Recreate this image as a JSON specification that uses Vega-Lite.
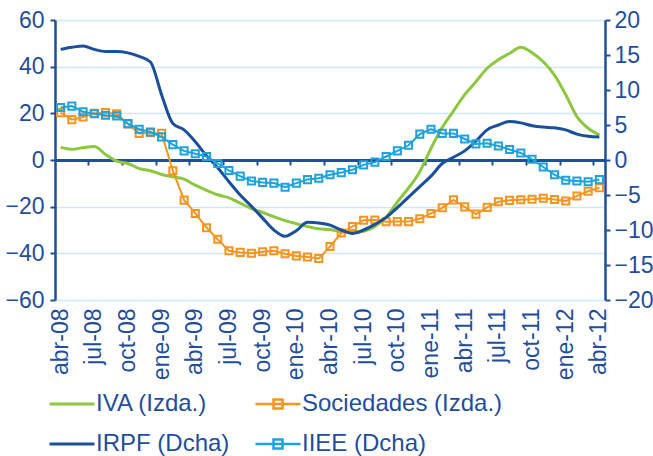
{
  "$schema": "https://vega.github.io/schema/vega-lite/v6.json",
  "width": 550,
  "height": 280,
  "autosize": {"type": "none"},
  "padding": {"left": 55, "top": 20, "right": 48, "bottom": 156},
  "background": "white",
  "config": {
    "view": {"stroke": null},
    "font": "Liberation Sans"
  },
  "data": {
    "values": [
      {"mes": "abr-08", "IVA": 5.4, "Sociedades": 20.3, "IRPF": 15.8, "IIEE": 7.5},
      {"mes": "may-08", "IVA": 4.6, "Sociedades": 17.3, "IRPF": 16.1, "IIEE": 7.7},
      {"mes": "jun-08", "IVA": 5.3, "Sociedades": 18.4, "IRPF": 16.3, "IIEE": 6.9},
      {"mes": "jul-08", "IVA": 5.8, "Sociedades": 20.0, "IRPF": 15.8, "IIEE": 6.6},
      {"mes": "ago-08", "IVA": 2.4, "Sociedades": 20.3, "IRPF": 15.5, "IIEE": 6.4},
      {"mes": "sep-08", "IVA": -0.5, "Sociedades": 19.8, "IRPF": 15.5, "IIEE": 6.3},
      {"mes": "oct-08", "IVA": -1.5, "Sociedades": 15.4, "IRPF": 15.3, "IIEE": 5.2},
      {"mes": "nov-08", "IVA": -3.7, "Sociedades": 11.4, "IRPF": 14.8, "IIEE": 4.4},
      {"mes": "dic-08", "IVA": -4.6, "Sociedades": 11.7, "IRPF": 14.0, "IIEE": 4.0},
      {"mes": "ene-09", "IVA": -6.2, "Sociedades": 11.4, "IRPF": 9.3, "IIEE": 3.3},
      {"mes": "feb-09", "IVA": -7.2, "Sociedades": -4.6, "IRPF": 5.2, "IIEE": 2.2},
      {"mes": "mar-09", "IVA": -8.2, "Sociedades": -17.2, "IRPF": 4.3, "IIEE": 1.3},
      {"mes": "abr-09", "IVA": -10.8, "Sociedades": -22.9, "IRPF": 2.6, "IIEE": 0.9},
      {"mes": "may-09", "IVA": -13.0, "Sociedades": -29.0, "IRPF": 0.6, "IIEE": 0.5},
      {"mes": "jun-09", "IVA": -14.9, "Sociedades": -34.0, "IRPF": -1.1, "IIEE": -0.5},
      {"mes": "jul-09", "IVA": -16.2, "Sociedades": -38.9, "IRPF": -3.1, "IIEE": -1.5},
      {"mes": "ago-09", "IVA": -18.5, "Sociedades": -39.6, "IRPF": -5.0, "IIEE": -2.3},
      {"mes": "sep-09", "IVA": -20.8, "Sociedades": -40.0, "IRPF": -6.6, "IIEE": -3.0},
      {"mes": "oct-09", "IVA": -22.5, "Sociedades": -39.3, "IRPF": -8.3, "IIEE": -3.2},
      {"mes": "nov-09", "IVA": -24.3, "Sociedades": -38.9, "IRPF": -10.0, "IIEE": -3.3},
      {"mes": "dic-09", "IVA": -26.0, "Sociedades": -40.2, "IRPF": -10.9, "IIEE": -3.9},
      {"mes": "ene-10", "IVA": -27.3, "Sociedades": -41.1, "IRPF": -10.1, "IIEE": -3.3},
      {"mes": "feb-10", "IVA": -28.5, "Sociedades": -41.6, "IRPF": -8.9, "IIEE": -2.8},
      {"mes": "mar-10", "IVA": -29.5, "Sociedades": -42.2, "IRPF": -9.0, "IIEE": -2.6},
      {"mes": "abr-10", "IVA": -29.8, "Sociedades": -37.1, "IRPF": -9.3, "IIEE": -2.1},
      {"mes": "may-10", "IVA": -30.8, "Sociedades": -31.3, "IRPF": -10.0, "IIEE": -1.8},
      {"mes": "jun-10", "IVA": -31.0, "Sociedades": -28.5, "IRPF": -10.5, "IIEE": -1.4},
      {"mes": "jul-10", "IVA": -30.5, "Sociedades": -25.8, "IRPF": -10.0, "IIEE": -0.7},
      {"mes": "ago-10", "IVA": -28.5, "Sociedades": -25.7, "IRPF": -9.2, "IIEE": -0.3},
      {"mes": "sep-10", "IVA": -24.5, "Sociedades": -26.5, "IRPF": -8.2, "IIEE": 0.5},
      {"mes": "oct-10", "IVA": -18.0, "Sociedades": -26.4, "IRPF": -6.8, "IIEE": 1.3},
      {"mes": "nov-10", "IVA": -12.0, "Sociedades": -26.4, "IRPF": -5.3, "IIEE": 2.1},
      {"mes": "dic-10", "IVA": -5.0, "Sociedades": -25.2, "IRPF": -3.8, "IIEE": 3.7},
      {"mes": "ene-11", "IVA": 5.0, "Sociedades": -22.9, "IRPF": -2.3, "IIEE": 4.4},
      {"mes": "feb-11", "IVA": 14.0, "Sociedades": -20.5, "IRPF": -0.5, "IIEE": 3.8},
      {"mes": "mar-11", "IVA": 21.0, "Sociedades": -17.1, "IRPF": 0.4, "IIEE": 3.8},
      {"mes": "abr-11", "IVA": 28.0, "Sociedades": -20.1, "IRPF": 1.3, "IIEE": 3.0},
      {"mes": "may-11", "IVA": 33.6, "Sociedades": -23.2, "IRPF": 2.7, "IIEE": 2.3},
      {"mes": "jun-11", "IVA": 39.3, "Sociedades": -20.3, "IRPF": 4.3, "IIEE": 2.4},
      {"mes": "jul-11", "IVA": 43.0, "Sociedades": -17.9, "IRPF": 5.0, "IIEE": 2.0},
      {"mes": "ago-11", "IVA": 45.7, "Sociedades": -17.3, "IRPF": 5.5, "IIEE": 1.5},
      {"mes": "sep-11", "IVA": 48.3, "Sociedades": -17.0, "IRPF": 5.3, "IIEE": 1.0},
      {"mes": "oct-11", "IVA": 46.0, "Sociedades": -16.8, "IRPF": 4.9, "IIEE": 0.1},
      {"mes": "nov-11", "IVA": 42.1, "Sociedades": -16.4, "IRPF": 4.7, "IIEE": -1.0},
      {"mes": "dic-11", "IVA": 36.4, "Sociedades": -16.9, "IRPF": 4.6, "IIEE": -2.1},
      {"mes": "ene-12", "IVA": 28.0, "Sociedades": -17.6, "IRPF": 4.3, "IIEE": -2.9},
      {"mes": "feb-12", "IVA": 18.6, "Sociedades": -15.4, "IRPF": 3.7, "IIEE": -3.0},
      {"mes": "mar-12", "IVA": 13.6, "Sociedades": -13.4, "IRPF": 3.4, "IIEE": -3.1},
      {"mes": "abr-12", "IVA": 10.7, "Sociedades": -11.9, "IRPF": 3.3, "IIEE": -2.8}
    ]
  },
  "layer": [
    {
      "encoding": {
        "x": {
          "field": "mes", "type": "ordinal", "sort": null, "bandPosition": 0.5,
          "scale": {"type": "band", "paddingInner": 0, "paddingOuter": 0},
          "axis": {
            "title": null, "orient": "bottom", "ticks": false, "domain": false, "grid": false,
            "values": ["abr-08","jul-08","oct-08","ene-09","abr-09","jul-09","oct-09","ene-10","abr-10","jul-10","oct-10","ene-11","abr-11","jul-11","oct-11","ene-12","abr-12"],
            "labelAngle": 270, "labelAlign": "right", "labelBaseline": "middle",
            "labelPadding": 8, "labelFontSize": 23, "labelColor": "#1F4E9D",
            "labelOverlap": false, "labelFont": "Liberation Sans"
          }
        }
      },
      "layer": [
        {
          "mark": {"type": "line", "strokeWidth": 3, "interpolate": "monotone"},
          "encoding": {
            "y": {"field": "IVA", "type": "quantitative", "scale": {"domain": [-60, 60], "nice": false, "zero": false},
              "axis": {"title": null, "orient": "left", "values": [-60,-40,-20,0,20,40,60], "grid": true, "gridColor": "#CDE8F6", "gridWidth": 1.5,
                "domainColor": "#1F4E9D", "domainWidth": 2.5, "tickColor": "#1F4E9D", "tickWidth": 2, "tickSize": 5,
                "labelFontSize": 23, "labelColor": "#1F4E9D", "labelPadding": 6, "labelFont": "Liberation Sans"}},
            "color": {"datum": "IVA (Izda.)", "type": "nominal",
              "scale": {"domain": ["IVA (Izda.)", "Sociedades (Izda.)", "IRPF (Dcha)", "IIEE (Dcha)"], "range": ["#8DC63F", "#F7941D", "#1A4F9B", "#1EA2DD"]},
              "legend": {
                "orient": "none", "legendX": 5, "legendY": 372, "direction": "horizontal", "columns": 2,
                "title": null, "labelFontSize": 24, "labelColor": "#1F4E9D", "labelFont": "Liberation Sans", "labelLimit": 400,
                "symbolType": "M-1,0H1", "symbolSize": 2025, "symbolStrokeWidth": 3,
                "labelOffset": 12, "columnPadding": 20, "rowPadding": 16, "symbolLimit": 10,
                "encode": {
                  "symbols": {
                    "update": {
                      "shape": {"signal": "indexof(['Sociedades (Izda.)','IIEE (Dcha)'], datum.value) >= 0 ? 'M-1,0H1M-0.2,-0.2H0.2V0.2H-0.2Z' : 'M-1,0H1'"},
                      "fill": {"value": "transparent"},
                      "strokeWidth": {"signal": "indexof(['Sociedades (Izda.)','IIEE (Dcha)'], datum.value) >= 0 ? 2.5 : 3"}
                    }
                  }
                }
              }
            }
          }
        },
        {
          "mark": {"type": "line", "strokeWidth": 2},
          "encoding": {
            "y": {"field": "Sociedades", "type": "quantitative", "scale": {"domain": [-60, 60], "nice": false, "zero": false},
              "axis": {"title": null, "orient": "left", "values": [-60,-40,-20,0,20,40,60], "grid": true, "gridColor": "#CDE8F6", "gridWidth": 1.5,
                "domainColor": "#1F4E9D", "domainWidth": 2.5, "tickColor": "#1F4E9D", "tickWidth": 2, "tickSize": 5,
                "labelFontSize": 23, "labelColor": "#1F4E9D", "labelPadding": 6, "labelFont": "Liberation Sans"}},
            "color": {"datum": "Sociedades (Izda.)", "type": "nominal"}
          }
        },
        {
          "mark": {"type": "point", "shape": "square", "filled": false, "size": 50, "strokeWidth": 2, "opacity": 1},
          "encoding": {
            "y": {"field": "Sociedades", "type": "quantitative", "scale": {"domain": [-60, 60], "nice": false, "zero": false},
              "axis": {"title": null, "orient": "left", "values": [-60,-40,-20,0,20,40,60], "grid": true, "gridColor": "#CDE8F6", "gridWidth": 1.5,
                "domainColor": "#1F4E9D", "domainWidth": 2.5, "tickColor": "#1F4E9D", "tickWidth": 2, "tickSize": 5,
                "labelFontSize": 23, "labelColor": "#1F4E9D", "labelPadding": 6, "labelFont": "Liberation Sans"}},
            "color": {"datum": "Sociedades (Izda.)", "type": "nominal"}
          }
        }
      ]
    },
    {
      "encoding": {
        "x": {
          "field": "mes", "type": "ordinal", "sort": null, "bandPosition": 0.5,
          "scale": {"type": "band", "paddingInner": 0, "paddingOuter": 0},
          "axis": {
            "title": null, "orient": "bottom", "offset": -140, "labels": false, "grid": false,
            "values": ["jul-08","oct-08","ene-09","abr-09","jul-09","oct-09","ene-10","abr-10","jul-10","oct-10","ene-11","abr-11","jul-11","oct-11","ene-12","abr-12"],
            "bandPosition": 0, "ticks": true, "tickSize": 5, "tickWidth": 2, "tickColor": "#1F4E9D",
            "domain": true, "domainColor": "#1F4E9D", "domainWidth": 3
          }
        }
      },
      "layer": [
        {
          "mark": {"type": "line", "strokeWidth": 3, "interpolate": "monotone"},
          "encoding": {
            "y": {"field": "IRPF", "type": "quantitative", "scale": {"domain": [-20, 20], "nice": false, "zero": false},
              "axis": {"title": null, "orient": "right", "values": [-20,-15,-10,-5,0,5,10,15,20], "grid": false,
                "domainColor": "#1F4E9D", "domainWidth": 2.5, "tickColor": "#1F4E9D", "tickWidth": 2, "tickSize": 5,
                "labelFontSize": 23, "labelColor": "#1F4E9D", "labelPadding": 4, "labelFont": "Liberation Sans"}},
            "color": {"datum": "IRPF (Dcha)", "type": "nominal"}
          }
        },
        {
          "mark": {"type": "line", "strokeWidth": 2},
          "encoding": {
            "y": {"field": "IIEE", "type": "quantitative", "scale": {"domain": [-20, 20], "nice": false, "zero": false},
              "axis": {"title": null, "orient": "right", "values": [-20,-15,-10,-5,0,5,10,15,20], "grid": false,
                "domainColor": "#1F4E9D", "domainWidth": 2.5, "tickColor": "#1F4E9D", "tickWidth": 2, "tickSize": 5,
                "labelFontSize": 23, "labelColor": "#1F4E9D", "labelPadding": 4, "labelFont": "Liberation Sans"}},
            "color": {"datum": "IIEE (Dcha)", "type": "nominal"}
          }
        },
        {
          "mark": {"type": "point", "shape": "square", "filled": false, "size": 50, "strokeWidth": 2, "opacity": 1},
          "encoding": {
            "y": {"field": "IIEE", "type": "quantitative", "scale": {"domain": [-20, 20], "nice": false, "zero": false},
              "axis": {"title": null, "orient": "right", "values": [-20,-15,-10,-5,0,5,10,15,20], "grid": false,
                "domainColor": "#1F4E9D", "domainWidth": 2.5, "tickColor": "#1F4E9D", "tickWidth": 2, "tickSize": 5,
                "labelFontSize": 23, "labelColor": "#1F4E9D", "labelPadding": 4, "labelFont": "Liberation Sans"}},
            "color": {"datum": "IIEE (Dcha)", "type": "nominal"}
          }
        }
      ]
    }
  ],
  "resolve": {"scale": {"y": "independent"}, "axis": {"x": "independent"}}
}
